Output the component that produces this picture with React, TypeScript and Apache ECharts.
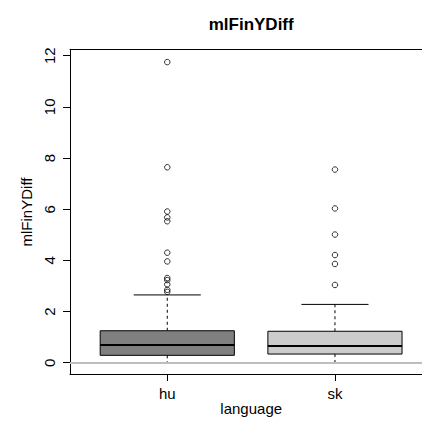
import React, { useEffect, useRef } from "react";
import * as echarts from "echarts";

const categories = ["hu", "sk"];
const lowerWhisker = [0, 0];
const q1 = [0.29, 0.34];
const median = [0.69, 0.65];
const q3 = [1.25, 1.23];
const upperWhisker = [2.65, 2.28];
const boxColors = ["#808080", "#cccccc"];
const huOutliers = [11.75, 7.64, 5.91, 5.68, 5.53, 4.3, 3.96, 3.31, 3.23, 3.06, 2.85, 2.77];
const skOutliers = [7.55, 6.03, 5.01, 4.21, 3.86, 3.04];
const yTicks = [0, 2, 4, 6, 8, 10, 12];
const xTicks = [1, 2];

const FONT = "'Liberation Sans', Arial, Helvetica, sans-serif";

export default function App() {
  const ref = useRef<HTMLDivElement>(null);
  useEffect(() => {
    if (!ref.current) return;
    const chart = echarts.init(ref.current, null, { renderer: "svg" });
    const boxData = categories.map((_, i) => [
      i + 1,
      lowerWhisker[i],
      q1[i],
      median[i],
      q3[i],
      upperWhisker[i],
      i,
    ]);
    const outlierData: number[][] = [];
    huOutliers.forEach((v) => outlierData.push([1, v]));
    skOutliers.forEach((v) => outlierData.push([2, v]));

    const X_MIN = 0.42;
    const X_MAX = 0.42 + 352 / 167.7;

    const option: any = {
      animation: false,
      grid: {
        left: 70,
        right: 0,
        top: 49.3,
        bottom: 52,
        show: false,
      },
      xAxis: [
        {
          type: "value",
          position: "bottom",
          min: X_MIN,
          max: X_MAX,
          axisLine: { show: true, onZero: false, lineStyle: { color: "#000", width: 1 } },
          splitLine: { show: false },
          axisTick: {
            show: true,
            customValues: xTicks,
            length: 7,
            lineStyle: { color: "#000", width: 1 },
          },
          axisLabel: {
            customValues: xTicks,
            formatter: (v: number) => categories[Math.round(v) - 1] ?? "",
            margin: 12,
            fontSize: 15,
            fontFamily: FONT,
            color: "#000",
          },
        },
        {
          type: "value",
          position: "top",
          min: X_MIN,
          max: X_MAX,
          axisLine: { show: true, onZero: false, lineStyle: { color: "#000", width: 1 } },
          splitLine: { show: false },
          axisTick: { show: false },
          axisLabel: { show: false },
        },
      ],
      yAxis: {
        type: "value",
        min: -0.44,
        max: 12.25,
        axisLine: { show: true, onZero: false, lineStyle: { color: "#000", width: 1 } },
        splitLine: { show: false },
        axisTick: {
          show: true,
          customValues: yTicks,
          length: 7,
          lineStyle: { color: "#000", width: 1 },
        },
        axisLabel: {
          customValues: yTicks,
          rotate: 90,
          margin: 13,
          fontSize: 15,
          fontFamily: FONT,
          color: "#000",
        },
      },
      series: [
        {
          type: "custom",
          z: 2,
          xAxisIndex: 0,
          data: boxData,
          encode: { x: 0, y: [1, 2, 3, 4, 5] },
          renderItem: (params: any, api: any) => {
            const x = api.value(0);
            const lo = api.coord([x, api.value(1)]);
            const b1 = api.coord([x, api.value(2)]);
            const md = api.coord([x, api.value(3)]);
            const b3 = api.coord([x, api.value(4)]);
            const hi = api.coord([x, api.value(5)]);
            const ci = api.value(6);
            const w = api.size([0.8, 0])[0];
            const cx = lo[0];
            const half = w / 2;
            const capHalf = w / 4;
            return {
              type: "group",
              children: [
                {
                  type: "line",
                  shape: { x1: cx, y1: b1[1], x2: cx, y2: lo[1] },
                  style: { stroke: "#000", lineWidth: 1, lineDash: [3, 3] },
                },
                {
                  type: "line",
                  shape: { x1: cx, y1: b3[1], x2: cx, y2: hi[1] },
                  style: { stroke: "#000", lineWidth: 1, lineDash: [3, 3] },
                },
                {
                  type: "line",
                  shape: { x1: cx - capHalf, y1: lo[1], x2: cx + capHalf, y2: lo[1] },
                  style: { stroke: "#000", lineWidth: 1 },
                },
                {
                  type: "line",
                  shape: { x1: cx - capHalf, y1: hi[1], x2: cx + capHalf, y2: hi[1] },
                  style: { stroke: "#000", lineWidth: 1 },
                },
                {
                  type: "rect",
                  shape: { x: cx - half, y: b3[1], width: w, height: b1[1] - b3[1] },
                  style: { fill: boxColors[ci], stroke: "#000", lineWidth: 1 },
                },
                {
                  type: "line",
                  shape: { x1: cx - half, y1: md[1], x2: cx + half, y2: md[1] },
                  style: { stroke: "#000", lineWidth: 2 },
                },
              ],
            };
          },
        },
        {
          type: "scatter",
          z: 3,
          xAxisIndex: 0,
          data: outlierData,
          symbol: "circle",
          symbolSize: 5.5,
          itemStyle: { color: "rgba(0,0,0,0)", borderColor: "#000", borderWidth: 1 },
          markLine: {
            silent: true,
            symbol: ["none", "none"],
            label: { show: false },
            lineStyle: { color: "#bebebe", width: 2, type: "solid" },
            data: [{ yAxis: 0 }],
          },
        },
      ],
      graphic: [
        {
          type: "text",
          x: 251.2,
          y: 24.2,
          style: {
            text: "mlFinYDiff",
            fill: "#000",
            fontSize: 17,
            fontWeight: "bold",
            fontFamily: FONT,
            align: "center",
            verticalAlign: "middle",
            textAlign: "center",
            textVerticalAlign: "middle",
          },
        },
        {
          type: "text",
          x: 251.2,
          y: 408.5,
          style: {
            text: "language",
            fill: "#000",
            fontSize: 15,
            fontFamily: FONT,
            align: "center",
            verticalAlign: "middle",
            textAlign: "center",
            textVerticalAlign: "middle",
          },
        },
        {
          type: "text",
          x: 26,
          y: 212,
          rotation: Math.PI / 2,
          style: {
            text: "mlFinYDiff",
            fill: "#000",
            fontSize: 15,
            fontFamily: FONT,
            align: "center",
            verticalAlign: "middle",
            textAlign: "center",
            textVerticalAlign: "middle",
          },
        },
      ],
    };
    chart.setOption(option);
    return () => chart.dispose();
  }, []);
  return (
    <div
      ref={ref}
      style={{ position: "fixed", left: 0, top: 0, width: 422, height: 426, background: "#fff" }}
    />
  );
}
